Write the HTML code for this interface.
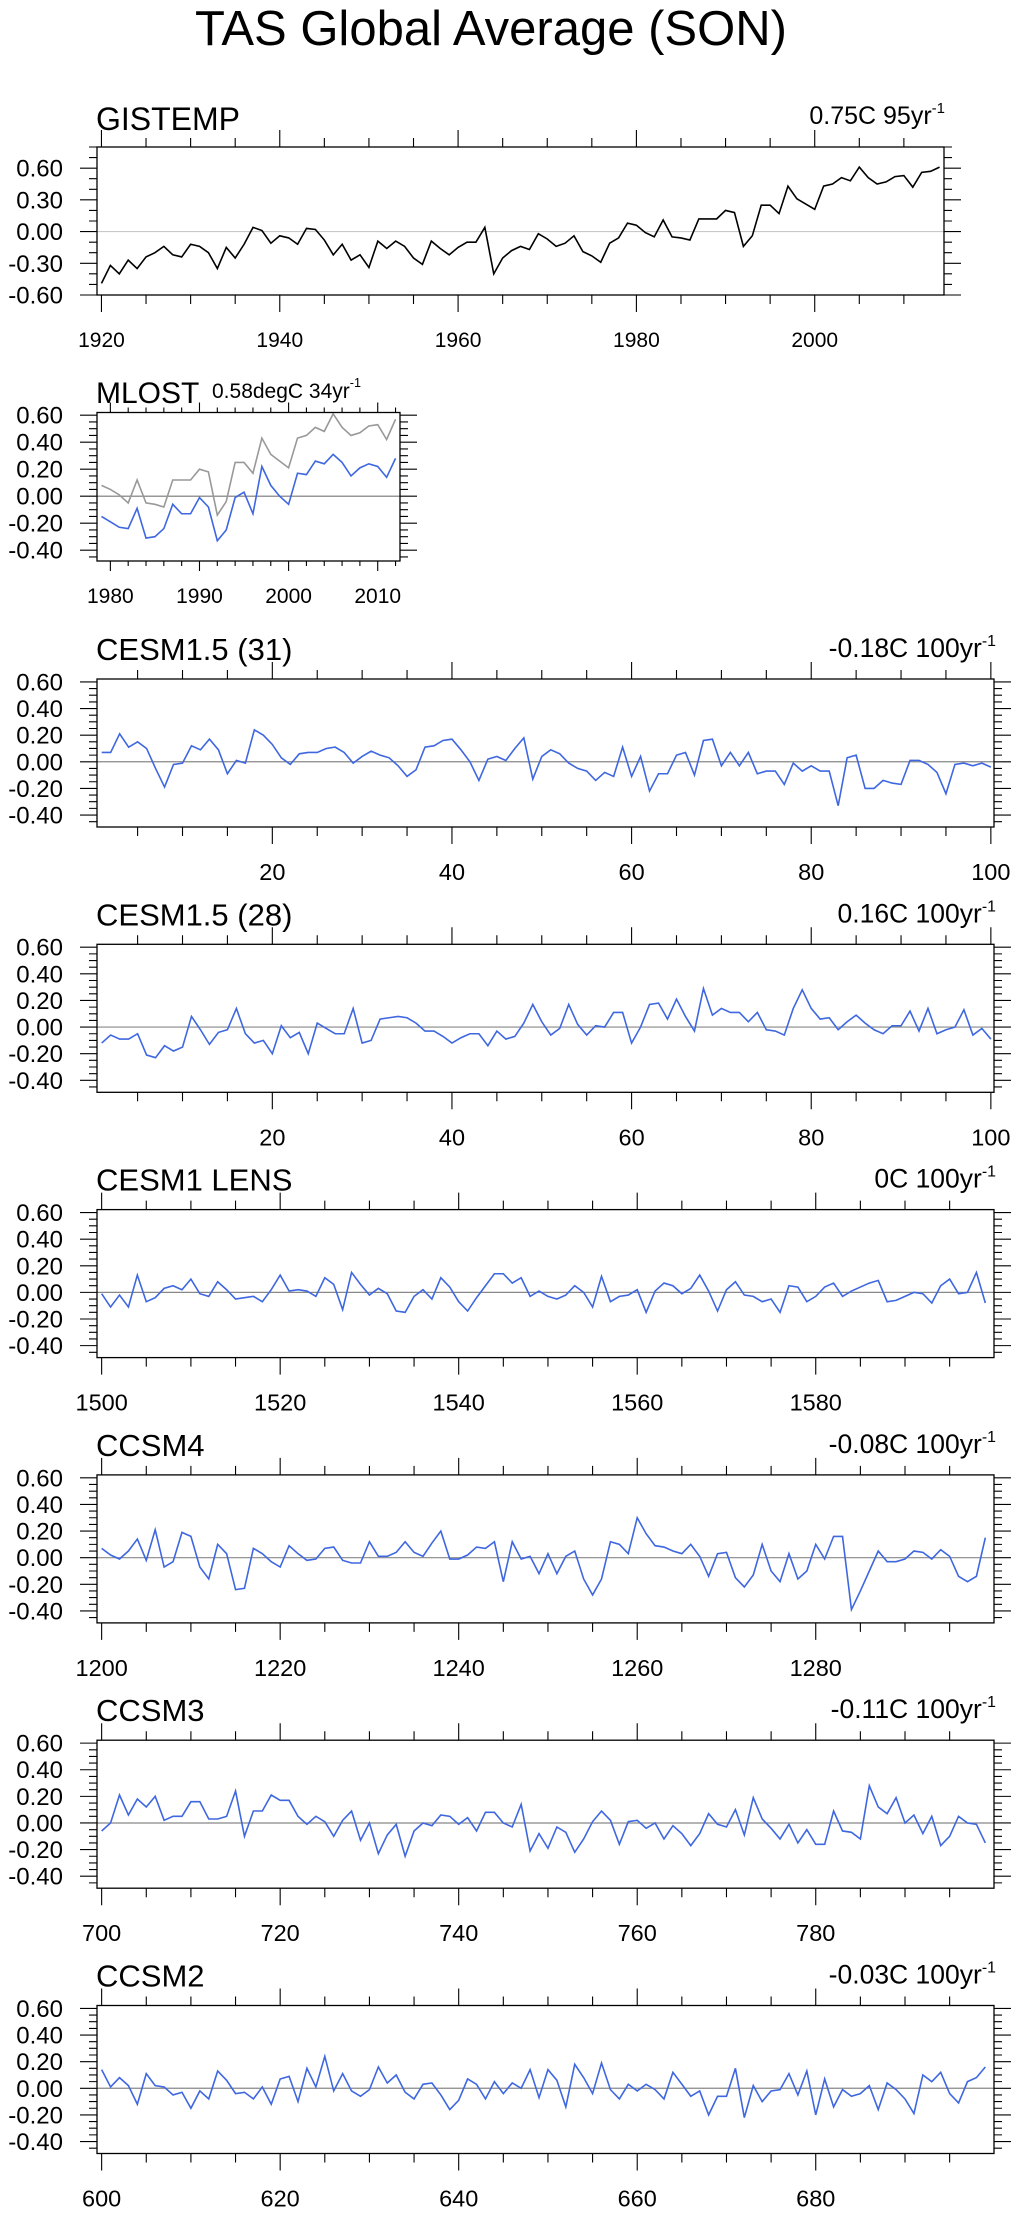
<!DOCTYPE html>
<html><head><meta charset="utf-8"><style>
html,body{margin:0;padding:0;background:#fff;}
svg{display:block;font-family:"Liberation Sans",Arial,sans-serif;}
</style></head><body>
<svg id="fig" width="1015" height="2216" viewBox="0 0 1015 2216" xmlns="http://www.w3.org/2000/svg">
<rect x="0" y="0" width="1015" height="2216" fill="#fff"/>
<text x="491" y="45" font-size="49" text-anchor="middle">TAS Global Average (SON)</text>
</svg>
<script>
// ---- data ----
const gisYears = [1920, 2014];
const gisValues = [-0.49,-0.32,-0.40,-0.27,-0.35,-0.24,-0.20,-0.14,-0.22,-0.24,-0.12,-0.14,-0.20,-0.35,-0.15,-0.25,-0.12,0.04,0.01,-0.11,-0.04,-0.06,-0.12,0.03,0.02,-0.08,-0.22,-0.12,-0.27,-0.22,-0.34,-0.09,-0.16,-0.09,-0.14,-0.25,-0.31,-0.09,-0.16,-0.22,-0.15,-0.10,-0.10,0.04,-0.40,-0.25,-0.18,-0.14,-0.17,-0.02,-0.07,-0.14,-0.11,-0.04,-0.19,-0.23,-0.29,-0.11,-0.06,0.08,0.06,-0.01,-0.05,0.11,-0.05,-0.06,-0.08,0.12,0.12,0.12,0.20,0.18,-0.14,-0.04,0.25,0.25,0.17,0.43,0.31,0.26,0.21,0.43,0.45,0.51,0.48,0.61,0.51,0.45,0.47,0.52,0.53,0.42,0.56,0.57,0.61];
const mlostGrayValues = [0.08,0.05,0.01,-0.05,0.12,-0.05,-0.06,-0.08,0.12,0.12,0.12,0.20,0.18,-0.14,-0.04,0.25,0.25,0.17,0.43,0.31,0.26,0.21,0.43,0.45,0.51,0.48,0.61,0.51,0.45,0.47,0.52,0.53,0.42,0.57];
const mlostValues = [-0.15,-0.19,-0.23,-0.24,-0.09,-0.31,-0.30,-0.24,-0.06,-0.13,-0.13,-0.01,-0.08,-0.33,-0.25,-0.01,0.03,-0.13,0.22,0.08,0.00,-0.06,0.17,0.16,0.26,0.24,0.31,0.25,0.15,0.21,0.24,0.22,0.14,0.28];
const cesm31Values = [0.07,0.07,0.21,0.11,0.15,0.10,-0.05,-0.19,-0.02,-0.01,0.12,0.09,0.17,0.09,-0.09,0.01,-0.01,0.24,0.20,0.13,0.03,-0.02,0.06,0.07,0.07,0.10,0.11,0.07,-0.01,0.04,0.08,0.05,0.03,-0.03,-0.11,-0.06,0.11,0.12,0.16,0.17,0.09,0.00,-0.14,0.02,0.04,0.01,0.10,0.18,-0.13,0.04,0.09,0.06,-0.01,-0.05,-0.07,-0.14,-0.08,-0.11,0.11,-0.11,0.04,-0.22,-0.09,-0.09,0.05,0.07,-0.10,0.16,0.17,-0.03,0.07,-0.03,0.07,-0.09,-0.07,-0.07,-0.17,-0.01,-0.07,-0.03,-0.07,-0.07,-0.33,0.03,0.05,-0.20,-0.20,-0.14,-0.16,-0.17,0.01,0.01,-0.02,-0.08,-0.24,-0.02,-0.01,-0.03,-0.01,-0.04];
const cesm28Values = [-0.12,-0.06,-0.09,-0.09,-0.05,-0.21,-0.23,-0.14,-0.18,-0.15,0.08,-0.02,-0.13,-0.04,-0.02,0.14,-0.05,-0.12,-0.10,-0.20,0.01,-0.08,-0.04,-0.20,0.03,-0.01,-0.05,-0.05,0.14,-0.12,-0.10,0.06,0.07,0.08,0.07,0.03,-0.03,-0.03,-0.07,-0.12,-0.08,-0.05,-0.05,-0.14,-0.03,-0.09,-0.07,0.03,0.17,0.04,-0.06,-0.01,0.17,0.02,-0.06,0.01,0.00,0.11,0.11,-0.12,0.00,0.17,0.18,0.06,0.21,0.08,-0.03,0.29,0.09,0.14,0.11,0.11,0.04,0.11,-0.02,-0.03,-0.06,0.14,0.28,0.14,0.06,0.07,-0.02,0.04,0.09,0.03,-0.02,-0.05,0.01,0.01,0.12,-0.03,0.14,-0.05,-0.02,0.00,0.13,-0.06,-0.01,-0.09];
const lensValues = [-0.01,-0.11,-0.02,-0.11,0.13,-0.07,-0.04,0.03,0.05,0.02,0.10,-0.01,-0.03,0.08,0.02,-0.05,-0.04,-0.03,-0.07,0.02,0.13,0.01,0.02,0.01,-0.03,0.11,0.06,-0.13,0.15,0.06,-0.02,0.03,-0.01,-0.14,-0.15,-0.03,0.02,-0.05,0.11,0.04,-0.07,-0.14,-0.04,0.05,0.14,0.14,0.07,0.11,-0.03,0.01,-0.03,-0.05,-0.02,0.05,0.00,-0.11,0.12,-0.07,-0.03,-0.02,0.02,-0.15,0.01,0.07,0.05,-0.01,0.03,0.13,0.01,-0.14,0.02,0.08,-0.02,-0.03,-0.07,-0.05,-0.15,0.05,0.04,-0.07,-0.03,0.04,0.07,-0.03,0.01,0.04,0.07,0.09,-0.07,-0.06,-0.03,0.00,-0.01,-0.08,0.05,0.10,-0.01,0.00,0.15,-0.08];
const ccsm4Values = [0.07,0.02,-0.01,0.05,0.14,-0.02,0.21,-0.07,-0.03,0.19,0.16,-0.07,-0.16,0.10,0.03,-0.24,-0.23,0.07,0.03,-0.03,-0.07,0.09,0.03,-0.02,-0.01,0.07,0.08,-0.02,-0.04,-0.04,0.12,0.01,0.01,0.04,0.12,0.04,0.01,0.11,0.20,-0.01,-0.01,0.02,0.08,0.07,0.12,-0.18,0.12,-0.01,0.01,-0.12,0.03,-0.12,0.01,0.05,-0.16,-0.28,-0.16,0.12,0.10,0.03,0.30,0.18,0.09,0.08,0.05,0.03,0.10,0.01,-0.14,0.03,0.04,-0.15,-0.22,-0.13,0.10,-0.10,-0.18,0.03,-0.16,-0.10,0.10,-0.01,0.16,0.16,-0.39,-0.25,-0.10,0.05,-0.03,-0.03,-0.01,0.05,0.04,-0.01,0.06,0.01,-0.14,-0.18,-0.14,0.15];
const ccsm3Values = [-0.06,0.00,0.21,0.06,0.18,0.12,0.20,0.02,0.05,0.05,0.16,0.16,0.03,0.03,0.05,0.24,-0.10,0.09,0.09,0.21,0.17,0.17,0.05,-0.01,0.05,0.01,-0.10,0.02,0.09,-0.13,0.00,-0.23,-0.09,-0.01,-0.25,-0.06,0.00,-0.02,0.06,0.05,-0.01,0.04,-0.06,0.08,0.08,0.00,-0.03,0.14,-0.21,-0.08,-0.19,-0.03,-0.07,-0.22,-0.12,0.01,0.09,0.02,-0.16,0.01,0.02,-0.04,0.00,-0.12,-0.02,-0.08,-0.17,-0.08,0.07,-0.01,-0.03,0.10,-0.09,0.19,0.03,-0.04,-0.12,-0.01,-0.15,-0.05,-0.16,-0.16,0.09,-0.06,-0.07,-0.12,0.28,0.12,0.07,0.19,0.00,0.06,-0.08,0.05,-0.17,-0.10,0.05,0.00,-0.01,-0.15];
const ccsm2Values = [0.14,0.01,0.08,0.02,-0.12,0.11,0.02,0.01,-0.05,-0.03,-0.15,-0.02,-0.08,0.13,0.06,-0.04,-0.03,-0.08,0.01,-0.12,0.07,0.09,-0.10,0.15,0.01,0.24,-0.02,0.11,-0.02,-0.06,-0.01,0.16,0.04,0.10,-0.03,-0.08,0.03,0.04,-0.05,-0.16,-0.09,0.07,0.03,-0.08,0.05,-0.04,0.04,0.00,0.14,-0.07,0.14,0.06,-0.14,0.18,0.08,-0.04,0.19,-0.01,-0.08,0.03,-0.02,0.03,-0.01,-0.08,0.12,0.03,-0.06,-0.02,-0.20,-0.06,-0.06,0.15,-0.22,0.02,-0.10,-0.02,-0.01,0.11,-0.05,0.13,-0.20,0.07,-0.14,-0.01,-0.06,-0.04,0.02,-0.16,0.04,-0.01,-0.08,-0.19,0.10,0.05,0.12,-0.04,-0.11,0.05,0.08,0.16];
const modelNames = ["CESM1.5 (31)","CESM1.5 (28)","CESM1 LENS","CCSM4","CCSM3","CCSM2"];
const modelTrends = ["-0.18C 100yr","0.16C 100yr","0C 100yr","-0.08C 100yr","-0.11C 100yr","-0.03C 100yr"];
const modelStarts = [1,1,1500,1200,700,600];
const modelYTicks = [0.6,0.4,0.2,0.0,-0.2,-0.4];
const gisYTicks = [0.6,0.3,0.0,-0.3,-0.6];

const NS = "http://www.w3.org/2000/svg";
const svg = document.getElementById('fig');
function mk(tag, attrs, parent){
  const e = document.createElementNS(NS, tag);
  for (const k in attrs) e.setAttribute(k, attrs[k]);
  (parent||svg).appendChild(e);
  return e;
}
function fmt(v){ return (Math.abs(v)<1e-9?0:v).toFixed(2); }

function drawPanel(p){
  const g = mk('g', {});
  
  
  const L=p.left, R=p.right, T=p.top, B=p.top+p.height;
  const xs = v => L + (v - p.xmin)/(p.xmax - p.xmin)*(R-L);
  const ys = v => T + (p.ymax - v)/(p.ymax - p.ymin)*(B-T);
  const z = mk('line', {x1:L, x2:R, y1:ys(0), y2:ys(0), stroke:p.zeroColor, 'stroke-width':1.2}, g);
  
  
  p.series.forEach((s, si) => {
    const pts = s.vals.map((v,i) => xs(p.xStart + i).toFixed(2) + ',' + ys(v).toFixed(2)).join(' ');
    const pl = mk('polyline', {points:pts, fill:'none', stroke:s.color, 'stroke-width':1.6, 'stroke-linejoin':'miter'}, g);
    
    
  });
  const fr = mk('rect', {x:L, y:T, width:R-L, height:B-T, fill:'none', stroke:'#000', 'stroke-width':1.3}, g);
  
  
  let d = '';
  const i0 = Math.ceil(p.xmin / p.xMinor), i1 = Math.floor(p.xmax / p.xMinor);
  for (let i=i0;i<=i1;i++){
    const v = i*p.xMinor, x = xs(v);
    const major = (Math.round(v) % p.xMajor) === 0;
    const len = major ? p.xMajLen : p.xMinLen;
    d += `M${x},${T}v${-len}M${x},${B}v${len}`;
    if (major){
      const t = mk('text', {x:x, y:B + p.xLabelDy, 'font-size':p.xLabelSize, 'text-anchor':'middle'}, g);
      t.textContent = String(Math.round(v));
      
      
    }
  }
  const j0 = Math.ceil(p.ymin/p.yMinor - 1e-6), j1 = Math.floor(p.ymax/p.yMinor + 1e-6);
  for (let j=j0;j<=j1;j++){
    const v = j*p.yMinor, y = ys(v);
    const major = p.yTicks.some(t => Math.abs(t - v) < 1e-6);
    const len = major ? 17 : 8;
    d += `M${L},${y}h${-len}M${R},${y}h${len}`;
  }
  const tk = mk('path', {d:d, stroke:'#000', 'stroke-width':1.1, fill:'none'}, g);
  
  
  p.yTicks.forEach(v => {
    const t = mk('text', {x:63, y:ys(v)+8.5, 'font-size':24, 'text-anchor':'end'}, g);
    t.textContent = fmt(v);
    
    
  });
  const lt = mk('text', {x:96, y:p.titleY, 'font-size':p.titleSize}, g);
  lt.textContent = p.title;
  
  
  const rt = mk('text', {x:p.rtX, y:p.rtY, 'font-size':p.rtSize, 'text-anchor':p.rtAnchor}, g);
  
  
  const ts1 = mk('tspan', {}, rt); ts1.textContent = p.rt;
  const ts2 = mk('tspan', {dy:-11, 'font-size':p.rtSize*0.6}, rt); ts2.textContent = '-1';
}

drawPanel({id:'gistemp', left:97, right:944, top:147, height:148, xmin:1919.5, xmax:2014.5, ymin:-0.6, ymax:0.8,
  xStart:gisYears[0], series:[{name:'gistemp', vals:gisValues, color:'#000'}], zeroColor:'#c8c8c8',
  xMinor:5, xMajor:20, xMajLen:17, xMinLen:9, xLabelDy:52, xLabelSize:21,
  yMinor:0.1, yTicks:gisYTicks, title:'GISTEMP', titleY:130, titleSize:32,
  rt:'0.75C 95yr', rtX:945, rtY:124, rtSize:25, rtAnchor:'end'});
drawPanel({id:'mlost', left:97, right:400, top:412.5, height:148.5, xmin:1978.5, xmax:2012.5, ymin:-0.48, ymax:0.62,
  xStart:1979, series:[{name:'gistemp-overlay', vals:mlostGrayValues, color:'#999'},{name:'mlost', vals:mlostValues, color:'#3e67e0'}], zeroColor:'#777',
  xMinor:2, xMajor:10, xMajLen:10, xMinLen:5, xLabelDy:42, xLabelSize:21,
  yMinor:0.05, yTicks:modelYTicks, title:'MLOST', titleY:403, titleSize:30,
  rt:'0.58degC 34yr', rtX:212, rtY:398, rtSize:21, rtAnchor:'start'});
const modelData = [cesm31Values, cesm28Values, lensValues, ccsm4Values, ccsm3Values, ccsm2Values];
modelNames.forEach((nm, k) => {
  const s = modelStarts[k];
  const isIdx = s === 1;
  drawPanel({id:nm.toLowerCase().replace(/[^a-z0-9]+/g,'-').replace(/-$/,''), left:97, right:994, top:679 + k*265.3, height:148,
    xmin:s-0.52, xmax: isIdx ? 100.35 : s+99.97, ymin:-0.49, ymax:0.622,
    xStart:s, series:[{name:'tas', vals:modelData[k], color:'#3e67e0'}], zeroColor:'#888',
    xMinor:5, xMajor:20, xMajLen:17, xMinLen:9, xLabelDy:53, xLabelSize:23.5,
    yMinor:0.05, yTicks:modelYTicks, title:nm, titleY:679 + k*265.3 - 19, titleSize:31,
    rt:modelTrends[k], rtX:996, rtY:679 + k*265.3 - 22, rtSize:26.5, rtAnchor:'end'});
});
</script>
</body></html>
